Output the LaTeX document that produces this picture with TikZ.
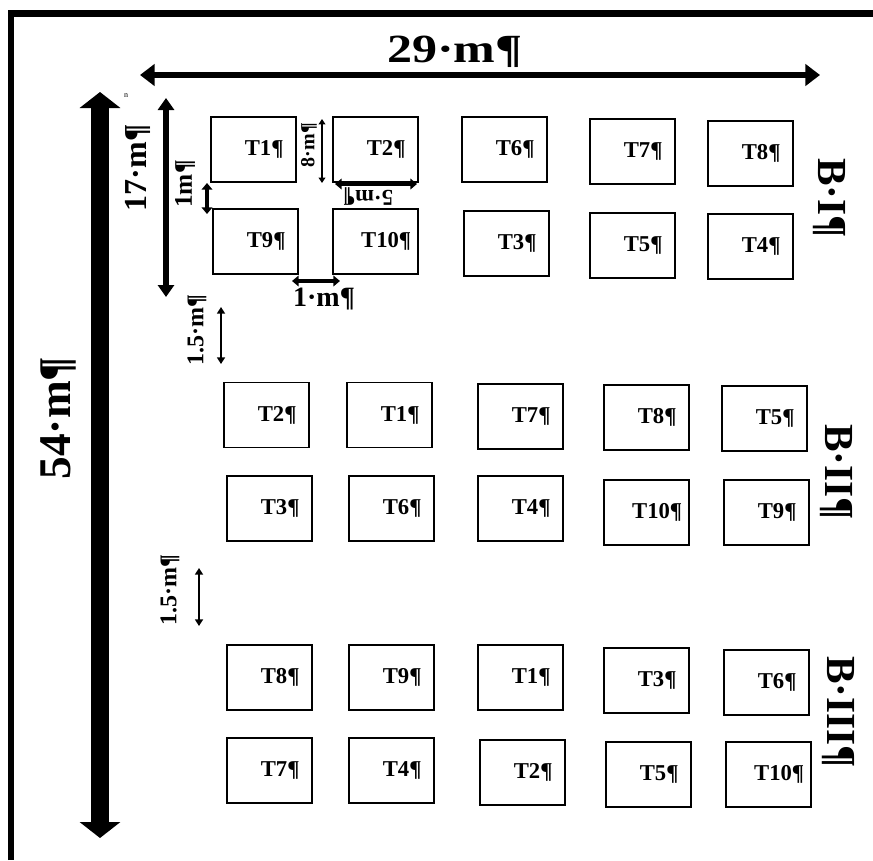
\documentclass[tikz,border=0pt]{standalone}
\usepackage{fontspec}
\setmainfont{Liberation Serif}
\usetikzlibrary{arrows.meta}

\tikzset{
  plot/.style={draw, line width=1.1pt, minimum width=63.75pt, minimum height=48.75pt,
    inner sep=0pt, font=\fontsize{17}{17}\selectfont\bfseries},
  dimtext/.style={inner sep=0.75pt, font=\bfseries},
  dimarrow/.style={<->, line width=#1},
}
\newcommand{\plotname}[1]{\hspace*{16pt}#1}

\begin{document}
\begin{tikzpicture}[x=0.75pt,y=0.75pt,yscale=-1,xscale=1]
\useasboundingbox (0,0) rectangle (873,860);

%Frame
\draw [line width=5pt] (11,860) -- (11,13.5) -- (873,13.5);

%Block I
\node [plot] (bIt1)  at (253.5,149.5) {\plotname{T1¶}};
\node [plot] (bIt2)  at (375.5,149.5) {\plotname{T2¶}};
\node [plot] (bIt6)  at (504.5,149.5) {\plotname{T6¶}};
\node [plot] (bIt7)  at (632.5,151.5) {\plotname{T7¶}};
\node [plot] (bIt8)  at (750.5,153.5) {\plotname{T8¶}};
\node [plot] (bIt9)  at (255.5,241.5) {\plotname{T9¶}};
\node [plot] (bIt10) at (375.5,241.5) {\plotname{T10¶}};
\node [plot] (bIt3)  at (506.5,243.5) {\plotname{T3¶}};
\node [plot] (bIt5)  at (632.5,245.5) {\plotname{T5¶}};
\node [plot] (bIt4)  at (750.5,246.5) {\plotname{T4¶}};

%Block II
\node [plot] (bIIt2)  at (266.5,415) {\plotname{T2¶}};
\node [plot] (bIIt1)  at (389.5,415) {\plotname{T1¶}};
\node [plot] (bIIt7)  at (520.5,416.5) {\plotname{T7¶}};
\node [plot] (bIIt8)  at (646.5,417.5) {\plotname{T8¶}};
\node [plot] (bIIt5)  at (764.5,418.5) {\plotname{T5¶}};
\node [plot] (bIIt3)  at (269.5,508.5) {\plotname{T3¶}};
\node [plot] (bIIt6)  at (391.5,508.5) {\plotname{T6¶}};
\node [plot] (bIIt4)  at (520.5,508.5) {\plotname{T4¶}};
\node [plot] (bIIt10) at (646.5,512.5) {\plotname{T10¶}};
\node [plot] (bIIt9)  at (766.5,512.5) {\plotname{T9¶}};

%Block III
\node [plot] (bIIIt8)  at (269.5,677.5) {\plotname{T8¶}};
\node [plot] (bIIIt9)  at (391.5,677.5) {\plotname{T9¶}};
\node [plot] (bIIIt1)  at (520.5,677.5) {\plotname{T1¶}};
\node [plot] (bIIIt3)  at (646.5,680.5) {\plotname{T3¶}};
\node [plot] (bIIIt6)  at (766.5,682.5) {\plotname{T6¶}};
\node [plot] (bIIIt7)  at (269.5,770.5) {\plotname{T7¶}};
\node [plot] (bIIIt4)  at (391.5,770.5) {\plotname{T4¶}};
\node [plot] (bIIIt2)  at (522.5,772.5) {\plotname{T2¶}};
\node [plot] (bIIIt5)  at (648.5,774.5) {\plotname{T5¶}};
\node [plot] (bIIIt10) at (768.5,774.5) {\plotname{T10¶}};

%Dimension ends
\coordinate (wideL) at (140,75);   \coordinate (wideR) at (820,75);
\coordinate (longT) at (100,92);   \coordinate (longB) at (100,838);
\coordinate (blockT) at (166,98);  \coordinate (blockB) at (166,297);
\coordinate (rowT) at (207,183);   \coordinate (rowB) at (207,214);
\coordinate (plotT) at (322,119);  \coordinate (plotB) at (322,183);
\coordinate (plotL) at (335,184);  \coordinate (plotR) at (417,184);
\coordinate (gapL) at (292,281);   \coordinate (gapR) at (340,281);
\coordinate (pathaT) at (221,307); \coordinate (pathaB) at (221,364);
\coordinate (pathbT) at (199,568); \coordinate (pathbB) at (199,626);

%Dimension arrows
\draw [dimarrow=5pt, >={Triangle[length=11pt,width=16pt]}] (wideL) -- (wideR);
\draw [dimarrow=13pt, >={Triangle[length=12pt,width=30pt]}] (longT) -- (longB);
\draw [dimarrow=4.5pt, >={Triangle[length=9pt,width=12pt]}] (blockT) -- (blockB);
\draw [dimarrow=3pt, >={Triangle[length=5pt,width=8pt]}] (rowT) -- (rowB);
\draw [dimarrow=1.5pt, >={Triangle[length=4pt,width=5pt]}] (plotT) -- (plotB);
\draw [dimarrow=3pt, >={Triangle[length=5pt,width=8pt]}] (plotL) -- (plotR);
\draw [dimarrow=3pt, >={Triangle[length=5pt,width=8pt]}] (gapL) -- (gapR);
\draw [dimarrow=2pt, >={Triangle[length=5pt,width=6pt]}] (pathaT) -- (pathaB);
\draw [dimarrow=2pt, >={Triangle[length=5pt,width=6pt]}] (pathbT) -- (pathbB);

% Text Node
\node [dimtext, xscale=1.25, font=\fontsize{30}{30}\selectfont\bfseries] (wideLbl) at (455,52) {29·m¶};
% Text Node
\node [dimtext, rotate=90, font=\fontsize{34}{34}\selectfont\bfseries] (longLbl) at (58,418) {54·m¶};
% Text Node
\node [dimtext, rotate=90, font=\fontsize{24}{24}\selectfont\bfseries] (blockLbl) at (138,168) {17·m¶};
% Text Node
\node [dimtext, rotate=90, font=\fontsize{19}{19}\selectfont\bfseries] (rowLbl) at (185,184) {1m¶};
% Text Node
\node [dimtext, rotate=90, font=\fontsize{15}{15}\selectfont\bfseries] (plotHLbl) at (309,145) {8·m¶};
% Text Node
\node [dimtext, rotate=180, font=\fontsize{17}{17}\selectfont\bfseries] (plotWLbl) at (368,196) {5·m¶};
% Text Node
\node [dimtext, font=\fontsize{21}{21}\selectfont\bfseries] (gapLbl) at (324,299) {1·m¶};
% Text Node
\node [dimtext, rotate=90, font=\fontsize{18}{18}\selectfont\bfseries] (pathaLbl) at (197,330) {1.5·m¶};
% Text Node
\node [dimtext, rotate=90, font=\fontsize{18}{18}\selectfont\bfseries] (pathbLbl) at (170,590) {1.5·m¶};
% Text Node
\node [dimtext, font=\fontsize{6}{6}\selectfont] (markLbl) at (126,96) {n};

% Text Node
\node [dimtext, rotate=-90, font=\fontsize{31}{31}\selectfont\bfseries] (blkI) at (829,198) {B·I¶};
% Text Node
\node [dimtext, rotate=-90, font=\fontsize{31}{31}\selectfont\bfseries] (blkII) at (836,472) {B·II¶};
% Text Node
\node [dimtext, rotate=-90, font=\fontsize{31}{31}\selectfont\bfseries] (blkIII) at (838,712) {B·III¶};

\end{tikzpicture}
\end{document}
